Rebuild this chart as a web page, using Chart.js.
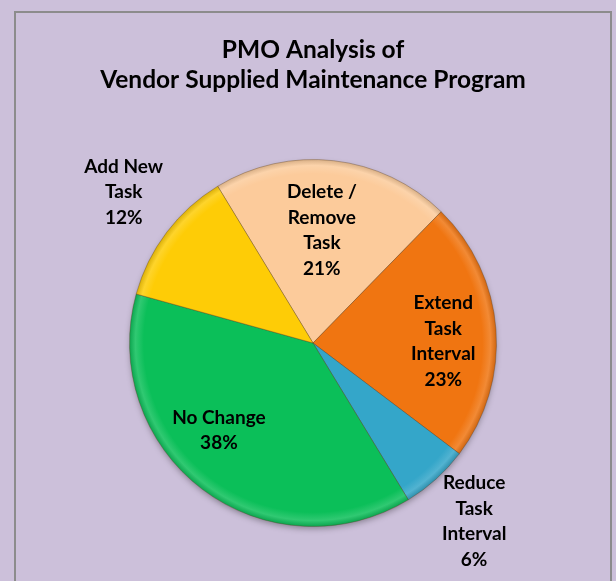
<!DOCTYPE html>
<html>
<head>
<meta charset="utf-8">
<script src="https://cdn.jsdelivr.net/npm/chart.js@4"></script>
<style>
  body { margin: 0; background: #ccc0da; }
  canvas { display: block; }
</style>
</head>
<body>
<canvas id="pmoChart" width="616" height="581"></canvas>
<script>
const categories = [
    ['Delete /', 'Remove', 'Task'],
    ['Extend', 'Task', 'Interval'],
    ['Reduce', 'Task', 'Interval'],
    ['No Change'],
    ['Add New', 'Task']
];
const shares = [21, 23, 6, 38, 12];
const sliceColors = ['#fccb9b', '#f07511', '#34a6c9', '#0bbf59', '#fecc06'];

// where each data label sits: fraction of the radius, and a small angle nudge (deg)
const labelRadius = [0.615, 0.71, 1.31, 0.70, 1.32];
const labelNudge = [-2, 3.5, 0, 10, 1.5];

function mix(hex, target, amt) {
    const n = parseInt(hex.slice(1), 16);
    const c = [(n >> 16) & 255, (n >> 8) & 255, n & 255];
    return 'rgb(' + c.map(v => Math.round(v + (target - v) * amt)).join(',') + ')';
}

// rim highlight + dark edge to fake the bevelled look
function bevelFill(ctx) {
    const chart = ctx.chart;
    const base = sliceColors[ctx.dataIndex];
    const area = chart.chartArea;
    if (!area) return base;
    const cx = (area.left + area.right) / 2;
    const cy = (area.top + area.bottom) / 2;
    const r = Math.min(area.right - area.left, area.bottom - area.top) / 2;
    const g = chart.ctx.createRadialGradient(cx, cy, 0, cx, cy, r);
    g.addColorStop(0, base);
    g.addColorStop(0.92, base);
    g.addColorStop(0.965, mix(base, 255, 0.15));
    g.addColorStop(1, mix(base, 0, 0.15));
    return g;
}

const frame = {
    id: 'frame',
    beforeDraw(chart) {
        const c = chart.ctx;
        c.save();
        c.fillStyle = '#ccc0da';
        c.fillRect(0, 0, chart.width, chart.height);
        c.strokeStyle = '#8c8c8c';
        c.lineWidth = 2;
        c.strokeRect(15, 12, 596, 600);
        c.restore();
    }
};

// soft drop shadow under the pie
const pieShadow = {
    id: 'pieShadow',
    beforeDatasetsDraw(chart) {
        const arc = chart.getDatasetMeta(0).data[0];
        if (!arc) return;
        const c = chart.ctx;
        c.save();
        c.shadowColor = 'rgba(0,0,0,0.35)';
        c.shadowBlur = 6;
        c.shadowOffsetY = 3;
        c.fillStyle = '#888';
        c.beginPath();
        c.arc(arc.x, arc.y, arc.outerRadius - 1, 0, Math.PI * 2);
        c.fill();
        c.restore();
    }
};

const sliceLabels = {
    id: 'sliceLabels',
    afterDatasetsDraw(chart) {
        const c = chart.ctx;
        const arcs = chart.getDatasetMeta(0).data;
        const total = shares.reduce((a, b) => a + b, 0);
        c.save();
        c.font = 'bold 19px Lato';
        c.fillStyle = '#000';
        c.textAlign = 'center';
        c.textBaseline = 'middle';
        arcs.forEach((arc, i) => {
            const mid = (arc.startAngle + arc.endAngle) / 2 + labelNudge[i] * Math.PI / 180;
            const rr = arc.outerRadius * labelRadius[i];
            const x = arc.x + Math.cos(mid) * rr;
            const y = arc.y + Math.sin(mid) * rr;
            const lines = categories[i].concat([Math.round(shares[i] / total * 100) + '%']);
            const lh = 25.5;
            lines.forEach((t, k) => {
                c.fillText(t, x, y + (k - (lines.length - 1) / 2) * lh);
            });
        });
        c.restore();
    }
};

const ctx = document.getElementById('pmoChart').getContext('2d');
const pmoChart = new Chart(ctx, {
    type: 'pie',
    data: {
        labels: categories,
        datasets: [{
            data: shares,
            backgroundColor: bevelFill,
            borderColor: 'rgba(90, 60, 30, 0.35)',
            borderWidth: 1
        }]
    },
    options: {
        responsive: false,
        animation: false,
        rotation: -31.3,
        layout: { padding: { left: 10, right: 0, top: 0, bottom: 54 } },
        plugins: {
            legend: { display: false },
            tooltip: { enabled: false },
            title: {
                display: true,
                text: ['PMO Analysis of', 'Vendor Supplied Maintenance Program'],
                color: '#000',
                font: { family: 'Lato', size: 24.5, weight: 'bold', lineHeight: 1.225 },
                padding: { top: 35, bottom: 64 }
            }
        }
    },
    plugins: [frame, pieShadow, sliceLabels]
});
</script>
</body>
</html>
